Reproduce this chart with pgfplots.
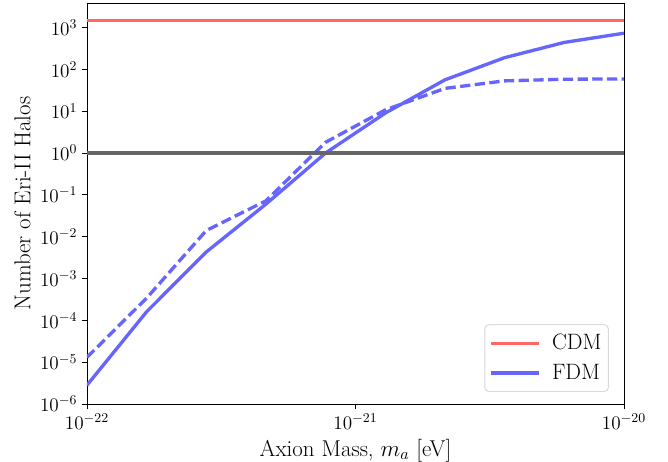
\RequirePackage{fix-cm}
\documentclass[border=0pt]{standalone}
\usepackage{fontspec}
\usepackage{pgfplots}
\pgfplotsset{compat=1.18}
\definecolor{cdmred}{HTML}{FF6666}
\definecolor{fdmblue}{HTML}{6666FF}
\definecolor{onegray}{HTML}{666666}
\begin{document}
\begin{tikzpicture}
\begin{axis}[
  scale only axis,
  width=386.64pt, height=288.72pt,
  xmode=log, ymode=log, log basis x=10, log basis y=10,
  xmin=1e-22, xmax=1e-20,
  ymin=1e-6, ymax=3855,
  xtick={1e-22,1e-21,1e-20},
  ytick={1e-6,1e-5,1e-4,1e-3,1e-2,1e-1,1,1e1,1e2,1e3},
  tick align=outside, tick pos=left,
  major tick length=3.5pt, minor tick length=2pt,
  every tick/.style={black, line width=0.6pt},
  axis line style={line width=0.6pt},
  ticklabel style={font=\fontsize{13.8}{16}\selectfont},
  label style={font=\fontsize{16.5}{19}\selectfont},
  xlabel={Axion Mass, $m_a$ [eV]},
  ylabel={Number of Eri-II Halos},
  legend style={at={(0.972,0.03)}, anchor=south east, draw=black!15, rounded corners=3pt,
    fill=white, font=\fontsize{16}{19}\selectfont, inner xsep=3pt, inner ysep=5pt, row sep=5pt,
    line width=0.7pt, /tikz/every odd column/.append style={column sep=6pt}},
  legend cell align=left,
  legend image code/.code={\draw[#1] (0pt,0pt) -- (35pt,0pt);},
]
\addplot[cdmred, line width=2.4pt] coordinates {(1e-22,1450) (1e-20,1450)};
\addlegendentry{CDM}
\addplot[fdmblue, line width=2.4pt] coordinates {
(1e-22,2.8e-6) (1.6681e-22,1.6e-4) (2.7826e-22,4.3e-3) (4.6416e-22,0.06)
(7.7426e-22,1.0) (1.2915e-21,9.0) (2.1544e-21,56) (3.5938e-21,190)
(5.9948e-21,440) (1e-20,730)};
\addlegendentry{FDM}
\addplot[fdmblue, line width=2.4pt, dash pattern=on 7.4pt off 3.2pt, forget plot] coordinates {
(1e-22,1.3e-5) (1.6681e-22,3.4e-4) (2.7826e-22,1.4e-2) (4.6416e-22,0.072)
(7.7426e-22,1.8) (1.2915e-21,10.7) (2.1544e-21,35) (3.5938e-21,53)
(5.9948e-21,58) (1e-20,59)};
\addplot[onegray, line width=2.4pt, forget plot] coordinates {(1e-22,1) (1e-20,1)};
\end{axis}
\pgfresetboundingbox
\path (-62.64pt,-41.04pt) rectangle (418.32pt,290.88pt);
\end{tikzpicture}
\end{document}
